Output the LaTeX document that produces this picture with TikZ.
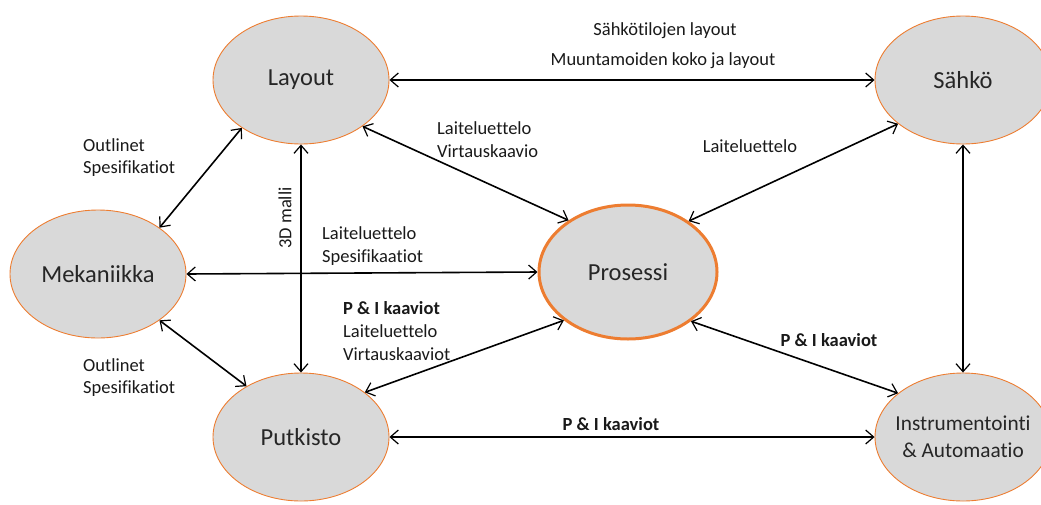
\documentclass[tikz,border=0pt]{standalone}
\usepackage{fontspec}
\setmainfont{Carlito}[Ligatures=NoCommon]
\usetikzlibrary{shapes.geometric,arrows.meta}
\definecolor{ovfill}{HTML}{D9D9D9}
\definecolor{ovline}{HTML}{ED7D31}
\tikzset{
  x=1pt,y=-1pt,
  oval/.style={ellipse,draw=ovline,line width=0.9pt,fill=ovfill,minimum width=176pt,minimum height=128pt,inner sep=0pt,font=\fontsize{24.5}{29}\selectfont,align=center,text=black!85},
  mainoval/.style={oval,line width=3pt,minimum width=178pt,minimum height=134pt},
  ovtext/.style={font=\fontsize{21.3}{27}\selectfont,align=center,text=black!85,inner sep=0pt},
  link/.style={line width=1.6pt,{Straight Barb[length=8pt,width=14pt,line width=1.2pt]}-{Straight Barb[length=8pt,width=14pt,line width=1.2pt]}},
  lbl/.style={font=\fontsize{18.5}{22.8}\selectfont,align=left,inner sep=0pt,text=black!90},
  blbl/.style={lbl,font=\fontsize{18.5}{22.8}\selectfont\bfseries}
}
\begin{document}
\begin{tikzpicture}
\useasboundingbox (0,0) rectangle (1041,504);
\node[oval] (layout) at (301,80) {Layout};
\node[oval] (sahko) at (963,80) {Sähkö};
\node[oval] (mek) at (98,274) {Mekaniikka};
\node[mainoval] (pros) at (628,272) {Prosessi};
\node[oval] (putki) at (301,437) {Putkisto};
\node[oval] (instr) at (963,437) {};
\node[ovtext] (instrtext) at (instr.center) {Instrumentointi\\\& Automaatio};

\draw[link] (layout.east) -- (sahko.west);
\draw[link] (layout.-37) -- (pros.139);
\draw[link] (sahko.214) -- (pros.40);
\draw[link] (layout.219) -- (mek.37);
\draw[link] (layout.south) -- (putki.north);
\draw[link] (mek.east) -- (pros.west);
\draw[link] (mek.-37) -- (putki.137);
\draw[link] (putki.35) -- (pros.217);
\draw[link] (pros.-38) -- (instr.146);
\draw[link] (putki.east) -- (instr.west);
\draw[link] (sahko.south) -- (instr.north);

\node[lbl] (l1) at (665,31) {Sähkötilojen layout};
\node[lbl] (l2) at (663,61) {Muuntamoiden koko ja layout};
\node[lbl,anchor=west] (l3) at (437,139.5) {Laiteluettelo\\Virtauskaavio};
\node[lbl] (l4) at (750,146) {Laiteluettelo};
\node[lbl,anchor=west] (l5) at (83,157.5) {Outlinet\\Spesifikatiot};
\node[lbl,rotate=90] (l6) at (285,218) {3D malli};
\node[lbl,anchor=west] (l7) at (322,246) {Laiteluettelo\\Spesifikaatiot};
\node[lbl,anchor=west] (l8) at (343,331) {\textbf{P \& I kaaviot}\\Laiteluettelo\\Virtauskaaviot};
\node[lbl,anchor=west] (l9) at (83,377.5) {Outlinet\\Spesifikatiot};
\node[blbl] (l10) at (829,340) {P \& I kaaviot};
\node[blbl] (l11) at (611,424) {P \& I kaaviot};
\end{tikzpicture}
\end{document}
